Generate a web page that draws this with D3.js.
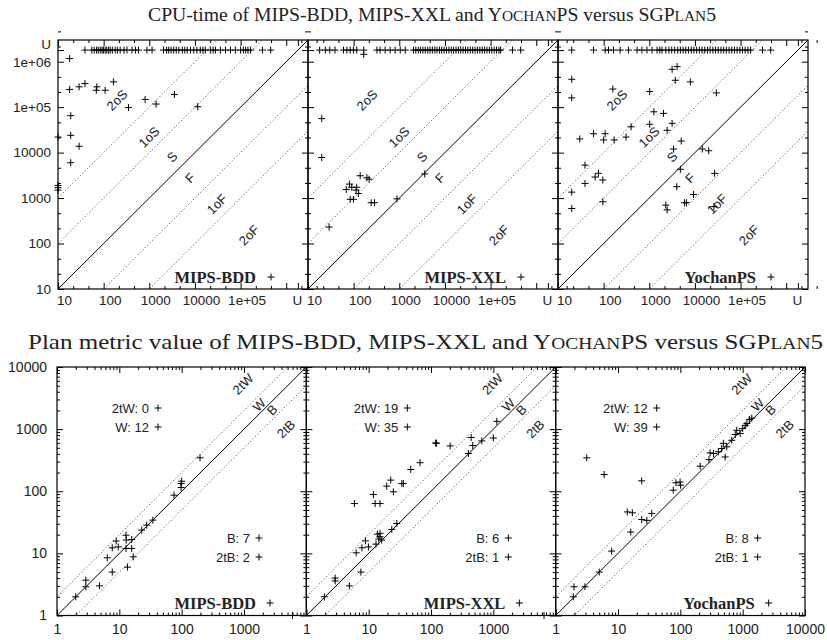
<!DOCTYPE html>
<html><head><meta charset="utf-8">
<script src="https://cdn.jsdelivr.net/npm/d3@7"></script>
<style>
body{margin:0;background:#fff}
svg{display:block}
</style></head>
<body><svg id="chart" width="827" height="640"></svg>
<script>
// ---------- data ----------
const U = 1.8e6; // "unsolved" marker value (timeout, ms)
const solvers = ["MIPS-BDD", "MIPS-XXL", "YochanPS"];

const cpuMajorTicks = [10, 100, 1000, 10000, 1e5, 1e6, U];
const cpuXTickLabels = ["10", "100", "1000", "10000", "1e+05", "", "U"];
const cpuYTickLabels = ["10", "100", "1000", "10000", "1e+05", "1e+06", "U"];
const cpuRegionLabels = ["2oS", "1oS", "S", "F", "1oF", "2oF"];

const planMajorTicks = [1, 10, 100, 1000, 10000];
const planXTickLabels = [["1", "10", "100", "1000", ""], ["1", "10", "100", "1000", ""], ["1", "10", "100", "1000", "10000"]];
const planYTickLabels = ["1", "10", "100", "1000", "10000"];
const planRegionLabels = ["2tW", "W", "B", "2tB"];

const count2tW = [0, 19, 12];
const countW = [12, 35, 39];
const countB = [7, 6, 8];
const count2tB = [2, 1, 1];

// CPU time [SGPlan5, planner]
const cpuBDD = [[18,1.17e6],[18,2.45e5],[29,2.8e5],[39,3.3e5],[71,2.8e5],[69,2.35e5],[108,2.35e5],[164,3.6e5],
  [350,9.8e4],[810,1.48e5],[1410,1.17e5],[3550,1.9e5],[11500,1.02e5],[19,6.5e4],[19,2.4e4],[29,1.38e4],[19,6000],
  [10,2.2e4],[10,1500],[10,1700],[10,1900]];
const cpuXXL = [[20,5.6e4],[20,7800],[29,230],[69,1550],[81,2030],[91,1730],[117,1730],[113,1500],[127,1260],
  [84,940],[99,940],[139,3100],[195,2800],[219,2600],[242,790],[286,790],[890,960],[3600,3400],[166,1.45e6]];
const cpuYochan = [[3160,6.8e5],[4070,7.8e5],[3720,3.9e5],[7940,3.6e5],[20,4.1e5],[20,1.6e5],[159,2.5e5],[1020,2.2e5],
  [29500,2.06e5],[1260,7.9e4],[2050,7.3e4],[1020,4.2e4],[3160,4.4e4],[2460,3.1e4],[400,3.7e4],[310,2.2e4],[170,1.9e4],
  [100,1.9e4],[108,2.6e4],[60,2.6e4],[30,2.0e4],[5000,1.8e4],[3400,1.2e4],[14500,1.2e4],[20000,1.1e4],[39,5300],
  [39,2100],[65,2900],[77,3500],[96,2500],[20,1350],[20,590],[96,830],[4800,4300],[4000,1780],[2300,700],[2460,550],
  [5900,790],[6500,790],[9300,1200],[27000,3500],[26000,650]];

// SGPlan5 CPU time of problems the planner left unsolved (plotted at U)
const unsolvedBDD = [39,55,62,70,76,84,92,99,108,117,128,139,155,179,200,230,280,324,417,500,580,890,1150,
  2050,2400,2660,3000,3430,3900,4440,5280,6000,6780,8000,9400,11000,13100,15000,16900,21800,25000,28100,
  36200,46700,60000,77000,100000,115000,129000,145000,166000,302000,457000];
const unsolvedXXL = [18,24,30,39,60,71,84,99,117,166,324,380,490,630,810,1050,1350,2050,2300,2600,2900,3300,
  3700,4200,4700,5300,6000,6700,7600,8500,9600,10800,12200,13800,15500,17500,19700,22200,25000,28200,31800,
  35900,40500,45700,51500,58100,65500,74000,83400,94000,106000,120000,135000,152000,166000,302000,457000];
const unsolvedYochan = [20,60,108,128,165,230,350,540,690,890,1150,1480,1700,1900,2300,2700,3100,3600,4200,
  4800,5500,6300,7200,8300,9500,10900,12500,14300,16400,18800,21500,24700,28300,32400,37200,42600,48800,
  56000,64100,73500,84200,96500,110000,126000,145000,166000,302000,457000];

// plan metric value [SGPlan5, planner]
const planBDD = [[2,2],[2.9,2.9],[2.9,3.7],[4.8,3.0],[6.4,8.5],[7.7,5.0],[7.7,12.3],[8.9,15.8],[9.6,12.7],
  [12.8,19.6],[12.8,12],[13.5,6.0],[12.9,16.4],[15.8,16.7],[15.8,12],[16.7,8.8],[22.9,23.7],[27.5,28.5],
  [34.5,34.3],[75.5,86.5],[98,133],[100,145],[98,115],[197,345],[6000,1]];
const planXXL = [[1.95,2],[2.9,4.0],[2.9,3.6],[4.9,3.0],[7.5,5.0],[6.3,10.2],[7.8,12.3],[8.9,15.9],[9.9,12.7],
  [13.1,14.1],[13.8,20.4],[15.2,21],[16.2,16.4],[15.2,18.5],[14.5,17],[23.5,24.3],[28.3,30.3],[5.9,63.4],
  [11.9,88.6],[12.7,63.4],[15.2,63.4],[19.5,121],[22.6,151],[24.9,98],[34,133],[36,133],[47.3,224],[66.8,288],
  [119,600],[122,590],[203,537],[398,405],[441,733],[468,544],[653,646],[1000,720],[1137,1335],[6500,1]];
const planYochan = [[1.92,2],[1.97,2.9],[2.95,2.9],[5,5],[7.9,10.9],[16,22],[14.1,46.5],[17,45],[24,35],[29,34],
  [34.7,44],[3.15,345],[6,186],[24,147],[77,104],[85,137],[99,141],[101,125],[208,253],[288,323],[300,414],
  [340,405],[407,430],[462,488],[490,590],[524,356],[556,519],[668,661],[760,820],[804,960],[910,850],
  [1000,1020],[1170,1230],[1280,1430],[1100,1150],[1400,1500]];

const cpuSolved = [cpuBDD, cpuXXL, cpuYochan];
const cpuUnsolved = [unsolvedBDD, unsolvedXXL, unsolvedYochan];
const planPoints = [planBDD, planXXL, planYochan];

// ---------- drawing ----------
const svg = d3.select("#chart");
const sans = "'Liberation Sans', Arial, Helvetica, sans-serif";
const serif = "'Liberation Serif', 'Times New Roman', Times, serif";

function title(cx, y, fs, span, parts) {
  const t = svg.append("text").attr("x", cx).attr("y", y).attr("text-anchor", "middle")
    .attr("font-family", serif).attr("font-size", fs).attr("fill", "#222")
    .attr("textLength", span).attr("lengthAdjust", "spacingAndGlyphs");
  parts.forEach(([s, small]) => t.append("tspan").attr("font-size", small ? fs * 0.78 : fs).text(s));
}
title(432, 21, 19.5, 568, [["CPU-time of MIPS-BDD, MIPS-XXL and Y"], ["OCHAN", 1], ["PS versus SGP"], ["LAN", 1], ["5"]]);
title(425.5, 349, 21, 795, [["Plan metric value of MIPS-BDD, MIPS-XXL and Y"], ["OCHAN", 1], ["PS versus SGP"], ["LAN", 1], ["5"]]);

function plusMarks(g, pts, x, y) {
  g.append("g").selectAll("path").data(pts).join("path")
    .attr("d", d => `M${x(d[0]) - 3.5},${y(d[1])}h7M${x(d[0])},${y(d[1]) - 3.5}v7`)
    .attr("stroke", "#000").attr("stroke-width", 1).attr("fill", "none");
}

function styleAxis(sel, fs) {
  sel.select(".domain").remove();
  sel.selectAll("line").attr("stroke", "#000").attr("stroke-width", 1);
  sel.selectAll("text").attr("font-family", sans).attr("font-size", fs).attr("fill", "#222");
}

// four-sided inward ticks for one panel; returns the major-tick axis groups
function ticks(g, x, y, major, minor, box, xFmt, yFmt, xPad, yPad, fs) {
  const sides = [
    [d3.axisBottom(x), `translate(0,${box.y1})`, xFmt, xPad],
    [d3.axisTop(x), `translate(0,${box.y0})`, null, 0],
    [d3.axisLeft(y), `translate(${box.x0},0)`, yFmt, yPad],
    [d3.axisRight(y), `translate(${box.x1},0)`, null, 0]
  ];
  return sides.map(([ax, tr, fmt, pad]) => {
    g.append("g").attr("transform", tr)
      .call(ax.tickValues(minor).tickSize(-3).tickFormat(""))
      .call(s => styleAxis(s, fs));
    return g.append("g").attr("transform", tr)
      .call(ax.tickValues(major).tickSize(-6).tickPadding(pad)
        .tickFormat(fmt ? (d => fmt[major.indexOf(d)]) : ""))
      .call(s => styleAxis(s, fs));
  });
}

function diagonal(g, x, y, k, lo, hi, dotted) {
  const xs = [lo / 100, hi * 100];
  g.append("line")
    .attr("x1", x(xs[0])).attr("y1", y(xs[0] * k))
    .attr("x2", x(xs[1])).attr("y2", y(xs[1] * k))
    .attr("stroke", dotted ? "#444" : "#000").attr("stroke-width", dotted ? 0.9 : 1)
    .attr("stroke-dasharray", dotted ? "1.2,2.2" : null);
}

function key(g, xText, xMark, yc, label, fs, family, weight) {
  g.append("text").attr("x", xText).attr("y", yc).attr("dy", "0.35em").attr("text-anchor", "end")
    .attr("font-family", family).attr("font-size", fs).attr("font-weight", weight).attr("fill", "#222")
    .text(label);
  g.append("path").attr("d", `M${xMark - 3.5},${yc}h7M${xMark},${yc - 3.5}v7`)
    .attr("stroke", "#000").attr("stroke-width", 1);
}

function regionLabel(g, txt, cx, cy) {
  g.append("text").attr("transform", `translate(${cx},${cy}) rotate(-45)`)
    .attr("text-anchor", "middle").attr("dy", "0.35em")
    .attr("font-family", sans).attr("font-size", 13).attr("fill", "#222").text(txt);
}

// CPU-time panels
const cpuMinor = [];
for (let k = 1; k <= 6; k++) [1 / 3, 2 / 3].forEach(f => cpuMinor.push(Math.pow(10, k + f)));
const cpuRegionPos = [[59, 100], [91, 137], [114, 157], [132, 178], [159, 204], [191, 235]];

solvers.forEach((name, i) => {
  const box = {x0: 58 + 250 * i, x1: 58 + 250 * (i + 1), y0: 40, y1: 289};
  const x = d3.scaleLog().domain([10, 3e6]).range([box.x0, box.x1]);
  const y = d3.scaleLog().domain([10, 3e6]).range([box.y1, box.y0]);
  const g = svg.append("g");
  const cid = "cpuclip" + i;
  g.append("clipPath").attr("id", cid).append("rect")
    .attr("x", box.x0).attr("y", box.y0).attr("width", box.x1 - box.x0).attr("height", box.y1 - box.y0);
  const lines = g.append("g").attr("clip-path", `url(#${cid})`);
  [100, 10, 0.1, 0.01].forEach(k => diagonal(lines, x, y, k, 10, 3e6, true));
  diagonal(lines, x, y, 1, 10, 3e6, false);
  cpuRegionLabels.forEach((t, j) => regionLabel(g, t, box.x0 + cpuRegionPos[j][0], cpuRegionPos[j][1]));
  const [bottomAxis, , leftAxis] = ticks(g, x, y, cpuMajorTicks, cpuMinor, box, cpuXTickLabels,
    i === 0 ? cpuYTickLabels : null, 6, 7, 13.5);
  // numeric labels sit a little right of their ticks; "U" stays put
  bottomAxis.selectAll(".tick text").attr("dx", d => d === U ? -1 : 6);
  leftAxis.selectAll(".tick text").attr("dy", d => d === U ? "-0.1em" : "0.32em");
  g.append("rect").attr("x", box.x0).attr("y", box.y0).attr("width", box.x1 - box.x0)
    .attr("height", box.y1 - box.y0).attr("fill", "none").attr("stroke", "#000").attr("stroke-width", 1.2);
  plusMarks(g, cpuSolved[i], x, y);
  plusMarks(g, cpuUnsolved[i].map(v => [v, U]), x, y);
  key(g, box.x0 + 198, box.x0 + 213, 277, name, 16.5, serif, "bold");
});

// plan metric panels
const planMinor = [];
for (let k = 0; k < 4; k++) for (let m = 2; m <= 9; m++) planMinor.push(m * Math.pow(10, k));
const planRegionPos = [[186, 384], [202, 405], [215, 410], [229, 429]];
const pw = (805 - 57) / 3;

solvers.forEach((name, i) => {
  const box = {x0: 57 + pw * i, x1: 57 + pw * (i + 1), y0: 367, y1: 615.5};
  const x = d3.scaleLog().domain([1, 10000]).range([box.x0, box.x1]);
  const y = d3.scaleLog().domain([1, 10000]).range([box.y1, box.y0]);
  const g = svg.append("g");
  const cid = "planclip" + i;
  g.append("clipPath").attr("id", cid).append("rect")
    .attr("x", box.x0).attr("y", box.y0).attr("width", box.x1 - box.x0).attr("height", box.y1 - box.y0);
  const lines = g.append("g").attr("clip-path", `url(#${cid})`);
  [2, 0.5].forEach(k => diagonal(lines, x, y, k, 1, 10000, true));
  diagonal(lines, x, y, 1, 1, 10000, false);
  planRegionLabels.forEach((t, j) => regionLabel(g, t, box.x0 + planRegionPos[j][0], planRegionPos[j][1]));
  ticks(g, x, y, planMajorTicks, planMinor, box, planXTickLabels[i], i === 0 ? planYTickLabels : null, 9, 10, 14);
  g.append("rect").attr("x", box.x0).attr("y", box.y0).attr("width", box.x1 - box.x0)
    .attr("height", box.y1 - box.y0).attr("fill", "none").attr("stroke", "#000").attr("stroke-width", 1.2);
  plusMarks(g, planPoints[i], x, y);
  key(g, box.x0 + 92, box.x0 + 101, 408, `2tW: ${count2tW[i]}`, 13, sans, "normal");
  key(g, box.x0 + 92, box.x0 + 101, 427, `W: ${countW[i]}`, 13, sans, "normal");
  key(g, box.x0 + 193, box.x0 + 202, 538, `B: ${countB[i]}`, 13, sans, "normal");
  key(g, box.x0 + 193, box.x0 + 202, 557, `2tB: ${count2tB[i]}`, 13, sans, "normal");
  key(g, box.x0 + 199, box.x0 + 213, 603, name, 16.5, serif, "bold");
});
</script>
</body></html>
